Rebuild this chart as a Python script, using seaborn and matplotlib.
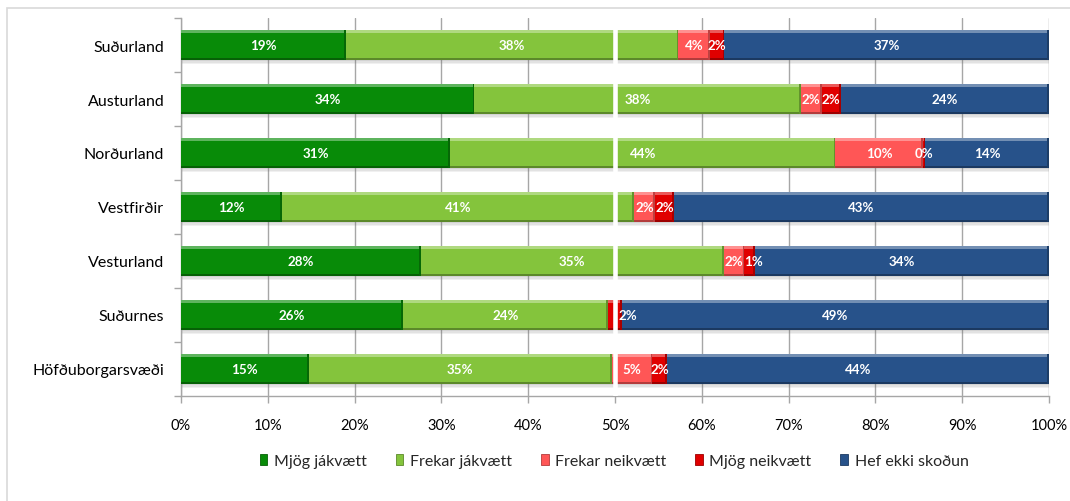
import numpy as np
import pandas as pd
import matplotlib
matplotlib.use("Agg")
import matplotlib.pyplot as plt
import seaborn as sns
from matplotlib.patches import Rectangle, Patch
from matplotlib.colors import to_rgb

# Survey answers by region (percent of respondents)
regions = ["Suðurland", "Austurland", "Norðurland", "Vestfirðir",
           "Vesturland", "Suðurnes", "Höfðuborgarsvæði"]
mjog_jakvaett = [19.0, 33.8, 31.0, 11.6, 27.6, 25.6, 14.7]
frekar_jakvaett = [38.3, 37.6, 44.4, 40.6, 34.9, 23.6, 34.9]
frekar_neikvaett = [3.6, 2.4, 10.1, 2.4, 2.4, 0.0, 4.7]
mjog_neikvaett = [1.7, 2.2, 0.2, 2.2, 1.2, 1.6, 1.7]
hef_ekki_skodun = [37.4, 24.0, 14.3, 43.2, 33.9, 49.2, 44.0]

series_names = ["Mjög jákvætt", "Frekar jákvætt", "Frekar neikvætt",
                "Mjög neikvætt", "Hef ekki skoðun"]
series_values = [mjog_jakvaett, frekar_jakvaett, frekar_neikvaett,
                 mjog_neikvaett, hef_ekki_skodun]
colors = ["#088b08", "#84c43c", "#ff5656", "#e00000", "#27528a"]
x_ticks = list(range(0, 101, 10))

W, H = 1070, 502
sns.set_theme(style="white")
plt.rcParams["font.family"] = ["Lato", "DejaVu Sans"]

fig = plt.figure(figsize=(W / 100, H / 100), dpi=100)
ax = fig.add_axes([181 / W, 1 - 397 / H, (1049 - 181) / W, (397 - 19) / H])


def mix(c, other, t):
    a = np.array(to_rgb(c))
    b = np.array(to_rgb(other))
    return tuple(a * (1 - t) + b * t)


bar_h = 0.55
left = np.zeros(len(regions))
segments = []
for name, vals, col in zip(series_names, series_values, colors):
    vals = np.asarray(vals, dtype=float)
    df = pd.DataFrame({"region": regions, "value": left + vals})
    n0 = len(ax.patches)
    sns.barplot(data=df, x="value", y="region", order=regions, orient="h",
                color=col, saturation=1, width=bar_h, ax=ax, zorder=3,
                linewidth=0)
    new = ax.patches[n0:]
    for p, l, v in zip(new, left, vals):
        p.set_x(l)
        p.set_width(v)
        segments.append((p, col, v))
    left = left + vals

# bevel and shadow styling on each segment
for p, col, v in segments:
    if v <= 0:
        continue
    x, y, w, h = p.get_x(), p.get_y(), p.get_width(), p.get_height()
    for k, a in enumerate([0.30, 0.2, 0.1]):
        ax.add_patch(Rectangle((x + 0.15, y + h + k * 0.025), w, 0.025,
                               facecolor="#707070", alpha=a, lw=0, zorder=2))
    ax.add_patch(Rectangle((x, y), w, h * 0.11, facecolor=mix(col, "white", 0.35),
                           lw=0, zorder=3.1))
    ax.add_patch(Rectangle((x, y + h * 0.93), w, h * 0.07,
                           facecolor=mix(col, "black", 0.3), lw=0, zorder=3.1))
    ax.add_patch(Rectangle((x + w - min(0.2, w * 0.3), y), min(0.2, w * 0.3), h,
                           facecolor=mix(col, "black", 0.25), lw=0, zorder=3.1))

ax.axvline(50, color="white", lw=3.3, zorder=5)

ax.set_xlim(0, 100)
ax.set_ylim(len(regions) - 0.5, -0.5)
ax.set_xticks(x_ticks)
ax.set_xticklabels([f"{t}%" for t in x_ticks])
ax.set_yticks(np.arange(len(regions)))
ax.set_yticklabels(regions)
ax.set_yticks(np.arange(-0.5, len(regions)), minor=True)
ax.set_xlabel("")
ax.set_ylabel("")

# value labels, nudged right where neighbouring labels would collide
fig.canvas.draw()
renderer = fig.canvas.get_renderer()
px_per_unit = ax.transData.transform((1, 0))[0] - ax.transData.transform((0, 0))[0]
for i in range(len(regions)):
    start = 0.0
    prev_right = -1e9
    for vals in series_values:
        v = vals[i]
        c = start + v / 2
        if v > 0:
            if v < 3 and abs(c - 50) < 1.5:
                c = 50.5
            t = ax.text(c, i, f"{v:.0f}%", ha="center", va="center", color="white",
                        fontsize=9.6, fontweight="bold", zorder=6)
            half = t.get_window_extent(renderer).width / 2 / px_per_unit
            if c - half < prev_right + 0.1:
                c = prev_right + 0.1 + half
                t.set_x(c)
            if v < 3 and abs(start + v / 2 - 50) < 1.5:
                c = max(c, 50.4 + half)
                t.set_x(c)
            prev_right = c + half
        start += v

ax.set_axisbelow(True)
ax.xaxis.grid(True, color="#a6a6a6", lw=1.0)
ax.yaxis.grid(False)
for s in ["top", "right"]:
    ax.spines[s].set_visible(False)
for s in ["left", "bottom"]:
    ax.spines[s].set_color("#a6a6a6")
    ax.spines[s].set_linewidth(1.0)

ax.tick_params(axis="x", which="major", bottom=True, length=5, width=1,
               color="#a6a6a6", pad=11, labelsize=10.5, labelcolor="black")
ax.tick_params(axis="y", which="major", left=True, length=0, pad=12,
               labelsize=11.5, labelcolor="black")
ax.tick_params(axis="y", which="minor", left=True, length=5, width=1,
               color="#a6a6a6")

handles = [Patch(facecolor=c, edgecolor=mix(c, "black", 0.3), lw=0.6)
           for c in colors]
fig.legend(handles, series_names, loc="center", bbox_to_anchor=(614 / W, 1 - 462 / H),
           ncol=5, frameon=False, fontsize=11.5, handlelength=0.5,
           handleheight=0.65, handletextpad=0.4, columnspacing=1.8)

fig.patches.append(Rectangle((6.5 / W, -0.1), 1.2, 1.1 - 9 / H,
                             transform=fig.transFigure, fill=False,
                             edgecolor="#d9d9d9", lw=1.2))

fig.savefig("out.png", dpi=100)
